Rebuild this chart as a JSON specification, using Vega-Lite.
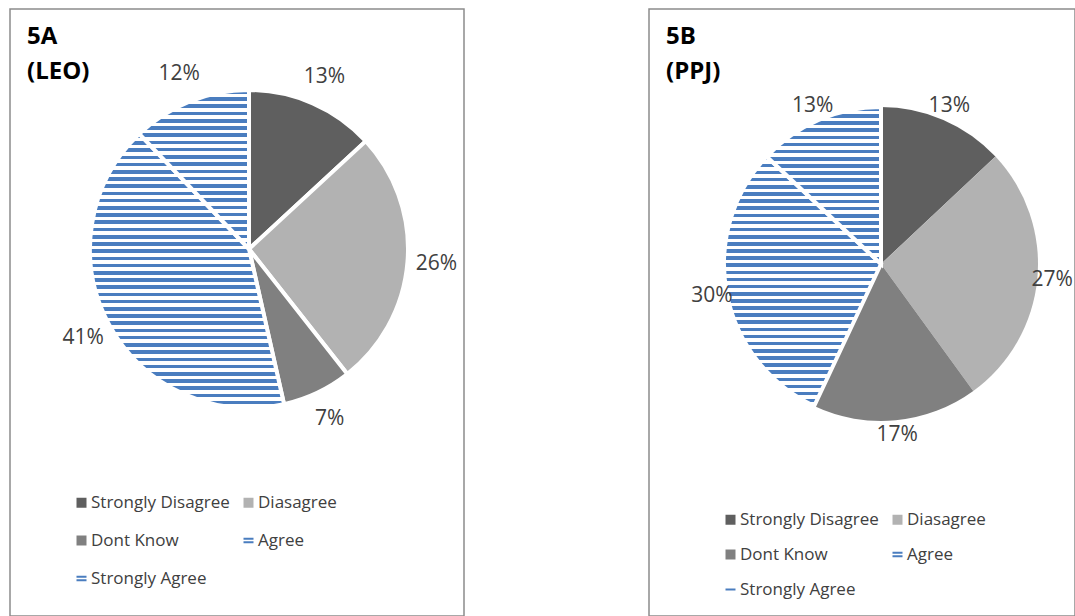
{
  "$schema": "https://vega.github.io/schema/vega-lite/v6.json",
  "padding": {"left": 9, "top": 8, "right": 0, "bottom": 0},
  "background": "white",
  "config": {
    "font": "Open Sans",
    "view": {"stroke": "#8c8c8c", "strokeWidth": 1.5},
    "style": {"cell": {"stroke": "#8c8c8c", "strokeWidth": 1.5}}
  },
  "spacing": 183,
  "resolve": {"scale": {"fill": "independent", "theta": "independent"}, "legend": {"fill": "independent"}},
  "hconcat": [
    {
      "width": 454,
      "height": 607,
      "view": {"stroke": "#8c8c8c", "strokeWidth": 1.5},
      "title": {"text": ["5A", "(LEO)"], "anchor": "start", "frame": "group", "orient": "top", "offset": -75, "dx": 17, "fontSize": 24, "fontWeight": "bold", "color": "#000000", "lineHeight": 35, "font": "Open Sans"},
      "data": {"values": [
        {"cat": "Strongly Disagree", "pct": 0.13},
        {"cat": "Diasagree", "pct": 0.26},
        {"cat": "Dont Know", "pct": 0.07},
        {"cat": "Agree", "pct": 0.41},
        {"cat": "Strongly Agree", "pct": 0.12}
      ]},
      "transform": [{"window": [{"op": "row_number", "as": "idx"}]}],
      "layer": [
        {
          "mark": {"type": "arc", "outerRadius": 159, "x": 239, "y": 240, "stroke": "#ffffff", "strokeWidth": 4},
          "encoding": {
            "theta": {"field": "pct", "type": "quantitative", "stack": true},
            "order": {"field": "idx", "type": "quantitative"},
            "fill": {
              "field": "cat", "type": "nominal",
              "scale": {"domain": ["Strongly Disagree", "Diasagree", "Dont Know", "Agree", "Strongly Agree"], "range": ["#5f5f5f", "#b2b2b2", "#808080", "#4a7dbf", "#4a7dbf"]},
              "legend": {"title": null, "orient": "none", "legendX": 63, "legendY": 485, "direction": "horizontal", "columns": 2, "padding": 0, "labelFont": "Open Sans", "labelFontSize": 17, "labelColor": "#404040", "labelLimit": 300, "symbolSize": 100, "symbolStrokeWidth": 0, "rowPadding": 20, "columnPadding": 10, "labelOffset": 1,
                "symbolType": {"expr": "datum.value === 'Agree' || datum.value === 'Strongly Agree' ? 'M-1,-0.55H1V-0.15H-1Z M-1,0.15H1V0.55H-1Z' : 'square'"}},
              "condition": [
                {"test": "datum.cat === 'Agree'", "value": {"gradient": "linear", "x1": 0, "y1": 0, "x2": 0, "y2": 1, "stops": [
{"offset":0,"color":"#4a7dbf"},{"offset":0.0132,"color":"#4a7dbf"},{"offset":0.0132,"color":"#fff"},{"offset":0.0263,"color":"#fff"},
{"offset":0.0263,"color":"#4a7dbf"},{"offset":0.0395,"color":"#4a7dbf"},{"offset":0.0395,"color":"#fff"},{"offset":0.0526,"color":"#fff"},
{"offset":0.0526,"color":"#4a7dbf"},{"offset":0.0658,"color":"#4a7dbf"},{"offset":0.0658,"color":"#fff"},{"offset":0.0789,"color":"#fff"},
{"offset":0.0789,"color":"#4a7dbf"},{"offset":0.0921,"color":"#4a7dbf"},{"offset":0.0921,"color":"#fff"},{"offset":0.1053,"color":"#fff"},
{"offset":0.1053,"color":"#4a7dbf"},{"offset":0.1184,"color":"#4a7dbf"},{"offset":0.1184,"color":"#fff"},{"offset":0.1316,"color":"#fff"},
{"offset":0.1316,"color":"#4a7dbf"},{"offset":0.1447,"color":"#4a7dbf"},{"offset":0.1447,"color":"#fff"},{"offset":0.1579,"color":"#fff"},
{"offset":0.1579,"color":"#4a7dbf"},{"offset":0.1711,"color":"#4a7dbf"},{"offset":0.1711,"color":"#fff"},{"offset":0.1842,"color":"#fff"},
{"offset":0.1842,"color":"#4a7dbf"},{"offset":0.1974,"color":"#4a7dbf"},{"offset":0.1974,"color":"#fff"},{"offset":0.2105,"color":"#fff"},
{"offset":0.2105,"color":"#4a7dbf"},{"offset":0.2237,"color":"#4a7dbf"},{"offset":0.2237,"color":"#fff"},{"offset":0.2368,"color":"#fff"},
{"offset":0.2368,"color":"#4a7dbf"},{"offset":0.25,"color":"#4a7dbf"},{"offset":0.25,"color":"#fff"},{"offset":0.2632,"color":"#fff"},
{"offset":0.2632,"color":"#4a7dbf"},{"offset":0.2763,"color":"#4a7dbf"},{"offset":0.2763,"color":"#fff"},{"offset":0.2895,"color":"#fff"},
{"offset":0.2895,"color":"#4a7dbf"},{"offset":0.3026,"color":"#4a7dbf"},{"offset":0.3026,"color":"#fff"},{"offset":0.3158,"color":"#fff"},
{"offset":0.3158,"color":"#4a7dbf"},{"offset":0.3289,"color":"#4a7dbf"},{"offset":0.3289,"color":"#fff"},{"offset":0.3421,"color":"#fff"},
{"offset":0.3421,"color":"#4a7dbf"},{"offset":0.3553,"color":"#4a7dbf"},{"offset":0.3553,"color":"#fff"},{"offset":0.3684,"color":"#fff"},
{"offset":0.3684,"color":"#4a7dbf"},{"offset":0.3816,"color":"#4a7dbf"},{"offset":0.3816,"color":"#fff"},{"offset":0.3947,"color":"#fff"},
{"offset":0.3947,"color":"#4a7dbf"},{"offset":0.4079,"color":"#4a7dbf"},{"offset":0.4079,"color":"#fff"},{"offset":0.4211,"color":"#fff"},
{"offset":0.4211,"color":"#4a7dbf"},{"offset":0.4342,"color":"#4a7dbf"},{"offset":0.4342,"color":"#fff"},{"offset":0.4474,"color":"#fff"},
{"offset":0.4474,"color":"#4a7dbf"},{"offset":0.4605,"color":"#4a7dbf"},{"offset":0.4605,"color":"#fff"},{"offset":0.4737,"color":"#fff"},
{"offset":0.4737,"color":"#4a7dbf"},{"offset":0.4868,"color":"#4a7dbf"},{"offset":0.4868,"color":"#fff"},{"offset":0.5,"color":"#fff"},
{"offset":0.5,"color":"#4a7dbf"},{"offset":0.5132,"color":"#4a7dbf"},{"offset":0.5132,"color":"#fff"},{"offset":0.5263,"color":"#fff"},
{"offset":0.5263,"color":"#4a7dbf"},{"offset":0.5395,"color":"#4a7dbf"},{"offset":0.5395,"color":"#fff"},{"offset":0.5526,"color":"#fff"},
{"offset":0.5526,"color":"#4a7dbf"},{"offset":0.5658,"color":"#4a7dbf"},{"offset":0.5658,"color":"#fff"},{"offset":0.5789,"color":"#fff"},
{"offset":0.5789,"color":"#4a7dbf"},{"offset":0.5921,"color":"#4a7dbf"},{"offset":0.5921,"color":"#fff"},{"offset":0.6053,"color":"#fff"},
{"offset":0.6053,"color":"#4a7dbf"},{"offset":0.6184,"color":"#4a7dbf"},{"offset":0.6184,"color":"#fff"},{"offset":0.6316,"color":"#fff"},
{"offset":0.6316,"color":"#4a7dbf"},{"offset":0.6447,"color":"#4a7dbf"},{"offset":0.6447,"color":"#fff"},{"offset":0.6579,"color":"#fff"},
{"offset":0.6579,"color":"#4a7dbf"},{"offset":0.6711,"color":"#4a7dbf"},{"offset":0.6711,"color":"#fff"},{"offset":0.6842,"color":"#fff"},
{"offset":0.6842,"color":"#4a7dbf"},{"offset":0.6974,"color":"#4a7dbf"},{"offset":0.6974,"color":"#fff"},{"offset":0.7105,"color":"#fff"},
{"offset":0.7105,"color":"#4a7dbf"},{"offset":0.7237,"color":"#4a7dbf"},{"offset":0.7237,"color":"#fff"},{"offset":0.7368,"color":"#fff"},
{"offset":0.7368,"color":"#4a7dbf"},{"offset":0.75,"color":"#4a7dbf"},{"offset":0.75,"color":"#fff"},{"offset":0.7632,"color":"#fff"},
{"offset":0.7632,"color":"#4a7dbf"},{"offset":0.7763,"color":"#4a7dbf"},{"offset":0.7763,"color":"#fff"},{"offset":0.7895,"color":"#fff"},
{"offset":0.7895,"color":"#4a7dbf"},{"offset":0.8026,"color":"#4a7dbf"},{"offset":0.8026,"color":"#fff"},{"offset":0.8158,"color":"#fff"},
{"offset":0.8158,"color":"#4a7dbf"},{"offset":0.8289,"color":"#4a7dbf"},{"offset":0.8289,"color":"#fff"},{"offset":0.8421,"color":"#fff"},
{"offset":0.8421,"color":"#4a7dbf"},{"offset":0.8553,"color":"#4a7dbf"},{"offset":0.8553,"color":"#fff"},{"offset":0.8684,"color":"#fff"},
{"offset":0.8684,"color":"#4a7dbf"},{"offset":0.8816,"color":"#4a7dbf"},{"offset":0.8816,"color":"#fff"},{"offset":0.8947,"color":"#fff"},
{"offset":0.8947,"color":"#4a7dbf"},{"offset":0.9079,"color":"#4a7dbf"},{"offset":0.9079,"color":"#fff"},{"offset":0.9211,"color":"#fff"},
{"offset":0.9211,"color":"#4a7dbf"},{"offset":0.9342,"color":"#4a7dbf"},{"offset":0.9342,"color":"#fff"},{"offset":0.9474,"color":"#fff"},
{"offset":0.9474,"color":"#4a7dbf"},{"offset":0.9605,"color":"#4a7dbf"},{"offset":0.9605,"color":"#fff"},{"offset":0.9737,"color":"#fff"},
{"offset":0.9737,"color":"#4a7dbf"},{"offset":0.9868,"color":"#4a7dbf"},{"offset":0.9868,"color":"#fff"},{"offset":1,"color":"#fff"}
                ]}},
                {"test": "datum.cat === 'Strongly Agree'", "value": {"gradient": "linear", "x1": 0, "y1": 0, "x2": 0, "y2": 1, "stops": [
{"offset":0,"color":"#4a7dbf"},{"offset":0.0227,"color":"#4a7dbf"},{"offset":0.0227,"color":"#fff"},{"offset":0.0455,"color":"#fff"},
{"offset":0.0455,"color":"#4a7dbf"},{"offset":0.0682,"color":"#4a7dbf"},{"offset":0.0682,"color":"#fff"},{"offset":0.0909,"color":"#fff"},
{"offset":0.0909,"color":"#4a7dbf"},{"offset":0.1136,"color":"#4a7dbf"},{"offset":0.1136,"color":"#fff"},{"offset":0.1364,"color":"#fff"},
{"offset":0.1364,"color":"#4a7dbf"},{"offset":0.1591,"color":"#4a7dbf"},{"offset":0.1591,"color":"#fff"},{"offset":0.1818,"color":"#fff"},
{"offset":0.1818,"color":"#4a7dbf"},{"offset":0.2045,"color":"#4a7dbf"},{"offset":0.2045,"color":"#fff"},{"offset":0.2273,"color":"#fff"},
{"offset":0.2273,"color":"#4a7dbf"},{"offset":0.25,"color":"#4a7dbf"},{"offset":0.25,"color":"#fff"},{"offset":0.2727,"color":"#fff"},
{"offset":0.2727,"color":"#4a7dbf"},{"offset":0.2955,"color":"#4a7dbf"},{"offset":0.2955,"color":"#fff"},{"offset":0.3182,"color":"#fff"},
{"offset":0.3182,"color":"#4a7dbf"},{"offset":0.3409,"color":"#4a7dbf"},{"offset":0.3409,"color":"#fff"},{"offset":0.3636,"color":"#fff"},
{"offset":0.3636,"color":"#4a7dbf"},{"offset":0.3864,"color":"#4a7dbf"},{"offset":0.3864,"color":"#fff"},{"offset":0.4091,"color":"#fff"},
{"offset":0.4091,"color":"#4a7dbf"},{"offset":0.4318,"color":"#4a7dbf"},{"offset":0.4318,"color":"#fff"},{"offset":0.4545,"color":"#fff"},
{"offset":0.4545,"color":"#4a7dbf"},{"offset":0.4773,"color":"#4a7dbf"},{"offset":0.4773,"color":"#fff"},{"offset":0.5,"color":"#fff"},
{"offset":0.5,"color":"#4a7dbf"},{"offset":0.5227,"color":"#4a7dbf"},{"offset":0.5227,"color":"#fff"},{"offset":0.5455,"color":"#fff"},
{"offset":0.5455,"color":"#4a7dbf"},{"offset":0.5682,"color":"#4a7dbf"},{"offset":0.5682,"color":"#fff"},{"offset":0.5909,"color":"#fff"},
{"offset":0.5909,"color":"#4a7dbf"},{"offset":0.6136,"color":"#4a7dbf"},{"offset":0.6136,"color":"#fff"},{"offset":0.6364,"color":"#fff"},
{"offset":0.6364,"color":"#4a7dbf"},{"offset":0.6591,"color":"#4a7dbf"},{"offset":0.6591,"color":"#fff"},{"offset":0.6818,"color":"#fff"},
{"offset":0.6818,"color":"#4a7dbf"},{"offset":0.7045,"color":"#4a7dbf"},{"offset":0.7045,"color":"#fff"},{"offset":0.7273,"color":"#fff"},
{"offset":0.7273,"color":"#4a7dbf"},{"offset":0.75,"color":"#4a7dbf"},{"offset":0.75,"color":"#fff"},{"offset":0.7727,"color":"#fff"},
{"offset":0.7727,"color":"#4a7dbf"},{"offset":0.7955,"color":"#4a7dbf"},{"offset":0.7955,"color":"#fff"},{"offset":0.8182,"color":"#fff"},
{"offset":0.8182,"color":"#4a7dbf"},{"offset":0.8409,"color":"#4a7dbf"},{"offset":0.8409,"color":"#fff"},{"offset":0.8636,"color":"#fff"},
{"offset":0.8636,"color":"#4a7dbf"},{"offset":0.8864,"color":"#4a7dbf"},{"offset":0.8864,"color":"#fff"},{"offset":0.9091,"color":"#fff"},
{"offset":0.9091,"color":"#4a7dbf"},{"offset":0.9318,"color":"#4a7dbf"},{"offset":0.9318,"color":"#fff"},{"offset":0.9545,"color":"#fff"},
{"offset":0.9545,"color":"#4a7dbf"},{"offset":0.9773,"color":"#4a7dbf"},{"offset":0.9773,"color":"#fff"},{"offset":1,"color":"#fff"}
                ]}}
              ]
            }
          }
        },
        {
          "mark": {"type": "text", "radius": 188, "x": 239, "y": 240, "fontSize": 21, "font": "Open Sans", "color": "#404040"},
          "encoding": {
            "theta": {"field": "pct", "type": "quantitative", "stack": true},
            "order": {"field": "idx", "type": "quantitative"},
            "detail": {"field": "cat", "type": "nominal"},
            "text": {"field": "pct", "type": "quantitative", "format": ".0%"}
          }
        }
      ]
    },
    {
      "width": 426,
      "height": 607,
      "view": {"stroke": "#8c8c8c", "strokeWidth": 1.5},
      "title": {"text": ["5B", "(PPJ)"], "anchor": "start", "frame": "group", "orient": "top", "offset": -75, "dx": 17, "fontSize": 24, "fontWeight": "bold", "color": "#000000", "lineHeight": 35, "font": "Open Sans"},
      "data": {"values": [
        {"cat": "Strongly Disagree", "pct": 0.13},
        {"cat": "Diasagree", "pct": 0.27},
        {"cat": "Dont Know", "pct": 0.17},
        {"cat": "Agree", "pct": 0.30},
        {"cat": "Strongly Agree", "pct": 0.13}
      ]},
      "transform": [{"window": [{"op": "row_number", "as": "idx"}]}],
      "layer": [
        {
          "mark": {"type": "arc", "outerRadius": 157, "x": 232, "y": 255, "stroke": "#ffffff"},
          "encoding": {
            "theta": {"field": "pct", "type": "quantitative", "stack": true},
            "order": {"field": "idx", "type": "quantitative"},
            "strokeWidth": {"condition": {"test": "datum.cat === 'Agree' || datum.cat === 'Strongly Agree'", "value": 4}, "value": 0},
            "fill": {
              "field": "cat", "type": "nominal",
              "scale": {"domain": ["Strongly Disagree", "Diasagree", "Dont Know", "Agree", "Strongly Agree"], "range": ["#5f5f5f", "#b2b2b2", "#808080", "#4a7dbf", "#4a7dbf"]},
              "legend": {"title": null, "orient": "none", "legendX": 73, "legendY": 502, "direction": "horizontal", "columns": 2, "padding": 0, "labelFont": "Open Sans", "labelFontSize": 17, "labelColor": "#404040", "labelLimit": 300, "symbolSize": 100, "symbolStrokeWidth": 0, "rowPadding": 17, "columnPadding": 10, "labelOffset": 1,
                "symbolType": {"expr": "datum.value === 'Agree' ? 'M-1,-0.55H1V-0.15H-1Z M-1,0.15H1V0.55H-1Z' : datum.value === 'Strongly Agree' ? 'M-1,-0.2H1V0.2H-1Z' : 'square'"}},
              "condition": [
                {"test": "datum.cat === 'Agree'", "value": {"gradient": "linear", "x1": 0, "y1": 0, "x2": 0, "y2": 1, "stops": [
{"offset":0,"color":"#4a7dbf"},{"offset":0.0143,"color":"#4a7dbf"},{"offset":0.0143,"color":"#fff"},{"offset":0.0286,"color":"#fff"},
{"offset":0.0286,"color":"#4a7dbf"},{"offset":0.0429,"color":"#4a7dbf"},{"offset":0.0429,"color":"#fff"},{"offset":0.0571,"color":"#fff"},
{"offset":0.0571,"color":"#4a7dbf"},{"offset":0.0714,"color":"#4a7dbf"},{"offset":0.0714,"color":"#fff"},{"offset":0.0857,"color":"#fff"},
{"offset":0.0857,"color":"#4a7dbf"},{"offset":0.1,"color":"#4a7dbf"},{"offset":0.1,"color":"#fff"},{"offset":0.1143,"color":"#fff"},
{"offset":0.1143,"color":"#4a7dbf"},{"offset":0.1286,"color":"#4a7dbf"},{"offset":0.1286,"color":"#fff"},{"offset":0.1429,"color":"#fff"},
{"offset":0.1429,"color":"#4a7dbf"},{"offset":0.1571,"color":"#4a7dbf"},{"offset":0.1571,"color":"#fff"},{"offset":0.1714,"color":"#fff"},
{"offset":0.1714,"color":"#4a7dbf"},{"offset":0.1857,"color":"#4a7dbf"},{"offset":0.1857,"color":"#fff"},{"offset":0.2,"color":"#fff"},
{"offset":0.2,"color":"#4a7dbf"},{"offset":0.2143,"color":"#4a7dbf"},{"offset":0.2143,"color":"#fff"},{"offset":0.2286,"color":"#fff"},
{"offset":0.2286,"color":"#4a7dbf"},{"offset":0.2429,"color":"#4a7dbf"},{"offset":0.2429,"color":"#fff"},{"offset":0.2571,"color":"#fff"},
{"offset":0.2571,"color":"#4a7dbf"},{"offset":0.2714,"color":"#4a7dbf"},{"offset":0.2714,"color":"#fff"},{"offset":0.2857,"color":"#fff"},
{"offset":0.2857,"color":"#4a7dbf"},{"offset":0.3,"color":"#4a7dbf"},{"offset":0.3,"color":"#fff"},{"offset":0.3143,"color":"#fff"},
{"offset":0.3143,"color":"#4a7dbf"},{"offset":0.3286,"color":"#4a7dbf"},{"offset":0.3286,"color":"#fff"},{"offset":0.3429,"color":"#fff"},
{"offset":0.3429,"color":"#4a7dbf"},{"offset":0.3571,"color":"#4a7dbf"},{"offset":0.3571,"color":"#fff"},{"offset":0.3714,"color":"#fff"},
{"offset":0.3714,"color":"#4a7dbf"},{"offset":0.3857,"color":"#4a7dbf"},{"offset":0.3857,"color":"#fff"},{"offset":0.4,"color":"#fff"},
{"offset":0.4,"color":"#4a7dbf"},{"offset":0.4143,"color":"#4a7dbf"},{"offset":0.4143,"color":"#fff"},{"offset":0.4286,"color":"#fff"},
{"offset":0.4286,"color":"#4a7dbf"},{"offset":0.4429,"color":"#4a7dbf"},{"offset":0.4429,"color":"#fff"},{"offset":0.4571,"color":"#fff"},
{"offset":0.4571,"color":"#4a7dbf"},{"offset":0.4714,"color":"#4a7dbf"},{"offset":0.4714,"color":"#fff"},{"offset":0.4857,"color":"#fff"},
{"offset":0.4857,"color":"#4a7dbf"},{"offset":0.5,"color":"#4a7dbf"},{"offset":0.5,"color":"#fff"},{"offset":0.5143,"color":"#fff"},
{"offset":0.5143,"color":"#4a7dbf"},{"offset":0.5286,"color":"#4a7dbf"},{"offset":0.5286,"color":"#fff"},{"offset":0.5429,"color":"#fff"},
{"offset":0.5429,"color":"#4a7dbf"},{"offset":0.5571,"color":"#4a7dbf"},{"offset":0.5571,"color":"#fff"},{"offset":0.5714,"color":"#fff"},
{"offset":0.5714,"color":"#4a7dbf"},{"offset":0.5857,"color":"#4a7dbf"},{"offset":0.5857,"color":"#fff"},{"offset":0.6,"color":"#fff"},
{"offset":0.6,"color":"#4a7dbf"},{"offset":0.6143,"color":"#4a7dbf"},{"offset":0.6143,"color":"#fff"},{"offset":0.6286,"color":"#fff"},
{"offset":0.6286,"color":"#4a7dbf"},{"offset":0.6429,"color":"#4a7dbf"},{"offset":0.6429,"color":"#fff"},{"offset":0.6571,"color":"#fff"},
{"offset":0.6571,"color":"#4a7dbf"},{"offset":0.6714,"color":"#4a7dbf"},{"offset":0.6714,"color":"#fff"},{"offset":0.6857,"color":"#fff"},
{"offset":0.6857,"color":"#4a7dbf"},{"offset":0.7,"color":"#4a7dbf"},{"offset":0.7,"color":"#fff"},{"offset":0.7143,"color":"#fff"},
{"offset":0.7143,"color":"#4a7dbf"},{"offset":0.7286,"color":"#4a7dbf"},{"offset":0.7286,"color":"#fff"},{"offset":0.7429,"color":"#fff"},
{"offset":0.7429,"color":"#4a7dbf"},{"offset":0.7571,"color":"#4a7dbf"},{"offset":0.7571,"color":"#fff"},{"offset":0.7714,"color":"#fff"},
{"offset":0.7714,"color":"#4a7dbf"},{"offset":0.7857,"color":"#4a7dbf"},{"offset":0.7857,"color":"#fff"},{"offset":0.8,"color":"#fff"},
{"offset":0.8,"color":"#4a7dbf"},{"offset":0.8143,"color":"#4a7dbf"},{"offset":0.8143,"color":"#fff"},{"offset":0.8286,"color":"#fff"},
{"offset":0.8286,"color":"#4a7dbf"},{"offset":0.8429,"color":"#4a7dbf"},{"offset":0.8429,"color":"#fff"},{"offset":0.8571,"color":"#fff"},
{"offset":0.8571,"color":"#4a7dbf"},{"offset":0.8714,"color":"#4a7dbf"},{"offset":0.8714,"color":"#fff"},{"offset":0.8857,"color":"#fff"},
{"offset":0.8857,"color":"#4a7dbf"},{"offset":0.9,"color":"#4a7dbf"},{"offset":0.9,"color":"#fff"},{"offset":0.9143,"color":"#fff"},
{"offset":0.9143,"color":"#4a7dbf"},{"offset":0.9286,"color":"#4a7dbf"},{"offset":0.9286,"color":"#fff"},{"offset":0.9429,"color":"#fff"},
{"offset":0.9429,"color":"#4a7dbf"},{"offset":0.9571,"color":"#4a7dbf"},{"offset":0.9571,"color":"#fff"},{"offset":0.9714,"color":"#fff"},
{"offset":0.9714,"color":"#4a7dbf"},{"offset":0.9857,"color":"#4a7dbf"},{"offset":0.9857,"color":"#fff"},{"offset":1,"color":"#fff"}
                ]}},
                {"test": "datum.cat === 'Strongly Agree'", "value": {"gradient": "linear", "x1": 0, "y1": 0, "x2": 0, "y2": 1, "stops": [
{"offset":0,"color":"#4a7dbf"},{"offset":0.0227,"color":"#4a7dbf"},{"offset":0.0227,"color":"#fff"},{"offset":0.0455,"color":"#fff"},
{"offset":0.0455,"color":"#4a7dbf"},{"offset":0.0682,"color":"#4a7dbf"},{"offset":0.0682,"color":"#fff"},{"offset":0.0909,"color":"#fff"},
{"offset":0.0909,"color":"#4a7dbf"},{"offset":0.1136,"color":"#4a7dbf"},{"offset":0.1136,"color":"#fff"},{"offset":0.1364,"color":"#fff"},
{"offset":0.1364,"color":"#4a7dbf"},{"offset":0.1591,"color":"#4a7dbf"},{"offset":0.1591,"color":"#fff"},{"offset":0.1818,"color":"#fff"},
{"offset":0.1818,"color":"#4a7dbf"},{"offset":0.2045,"color":"#4a7dbf"},{"offset":0.2045,"color":"#fff"},{"offset":0.2273,"color":"#fff"},
{"offset":0.2273,"color":"#4a7dbf"},{"offset":0.25,"color":"#4a7dbf"},{"offset":0.25,"color":"#fff"},{"offset":0.2727,"color":"#fff"},
{"offset":0.2727,"color":"#4a7dbf"},{"offset":0.2955,"color":"#4a7dbf"},{"offset":0.2955,"color":"#fff"},{"offset":0.3182,"color":"#fff"},
{"offset":0.3182,"color":"#4a7dbf"},{"offset":0.3409,"color":"#4a7dbf"},{"offset":0.3409,"color":"#fff"},{"offset":0.3636,"color":"#fff"},
{"offset":0.3636,"color":"#4a7dbf"},{"offset":0.3864,"color":"#4a7dbf"},{"offset":0.3864,"color":"#fff"},{"offset":0.4091,"color":"#fff"},
{"offset":0.4091,"color":"#4a7dbf"},{"offset":0.4318,"color":"#4a7dbf"},{"offset":0.4318,"color":"#fff"},{"offset":0.4545,"color":"#fff"},
{"offset":0.4545,"color":"#4a7dbf"},{"offset":0.4773,"color":"#4a7dbf"},{"offset":0.4773,"color":"#fff"},{"offset":0.5,"color":"#fff"},
{"offset":0.5,"color":"#4a7dbf"},{"offset":0.5227,"color":"#4a7dbf"},{"offset":0.5227,"color":"#fff"},{"offset":0.5455,"color":"#fff"},
{"offset":0.5455,"color":"#4a7dbf"},{"offset":0.5682,"color":"#4a7dbf"},{"offset":0.5682,"color":"#fff"},{"offset":0.5909,"color":"#fff"},
{"offset":0.5909,"color":"#4a7dbf"},{"offset":0.6136,"color":"#4a7dbf"},{"offset":0.6136,"color":"#fff"},{"offset":0.6364,"color":"#fff"},
{"offset":0.6364,"color":"#4a7dbf"},{"offset":0.6591,"color":"#4a7dbf"},{"offset":0.6591,"color":"#fff"},{"offset":0.6818,"color":"#fff"},
{"offset":0.6818,"color":"#4a7dbf"},{"offset":0.7045,"color":"#4a7dbf"},{"offset":0.7045,"color":"#fff"},{"offset":0.7273,"color":"#fff"},
{"offset":0.7273,"color":"#4a7dbf"},{"offset":0.75,"color":"#4a7dbf"},{"offset":0.75,"color":"#fff"},{"offset":0.7727,"color":"#fff"},
{"offset":0.7727,"color":"#4a7dbf"},{"offset":0.7955,"color":"#4a7dbf"},{"offset":0.7955,"color":"#fff"},{"offset":0.8182,"color":"#fff"},
{"offset":0.8182,"color":"#4a7dbf"},{"offset":0.8409,"color":"#4a7dbf"},{"offset":0.8409,"color":"#fff"},{"offset":0.8636,"color":"#fff"},
{"offset":0.8636,"color":"#4a7dbf"},{"offset":0.8864,"color":"#4a7dbf"},{"offset":0.8864,"color":"#fff"},{"offset":0.9091,"color":"#fff"},
{"offset":0.9091,"color":"#4a7dbf"},{"offset":0.9318,"color":"#4a7dbf"},{"offset":0.9318,"color":"#fff"},{"offset":0.9545,"color":"#fff"},
{"offset":0.9545,"color":"#4a7dbf"},{"offset":0.9773,"color":"#4a7dbf"},{"offset":0.9773,"color":"#fff"},{"offset":1,"color":"#fff"}
                ]}}
              ]
            }
          }
        },
        {
          "mark": {"type": "text", "radius": 172, "x": 232, "y": 255, "fontSize": 21, "font": "Open Sans", "color": "#404040"},
          "encoding": {
            "theta": {"field": "pct", "type": "quantitative", "stack": true},
            "order": {"field": "idx", "type": "quantitative"},
            "detail": {"field": "cat", "type": "nominal"},
            "text": {"field": "pct", "type": "quantitative", "format": ".0%"}
          }
        }
      ]
    }
  ]
}
